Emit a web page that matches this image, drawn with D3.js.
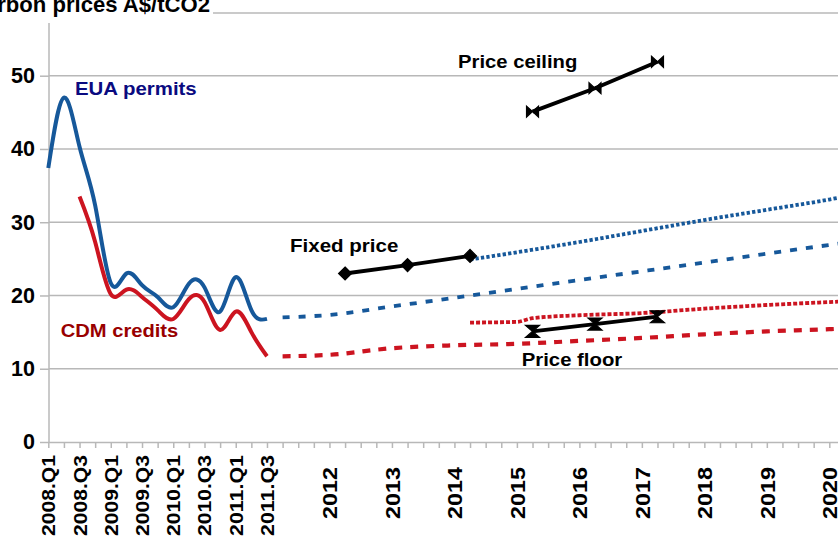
<!DOCTYPE html>
<html><head><meta charset="utf-8">
<script src="https://cdn.jsdelivr.net/npm/d3@7"></script>
<style>
html,body{margin:0;padding:0;background:#fff;}
svg{display:block;font-family:"Liberation Sans",Arial,sans-serif;font-weight:bold;}
</style></head><body>
<svg id="chart" width="838" height="544"></svg>
<script>
// ---------- data ----------
const categories = [
  "2008.Q1","2008.Q2","2008.Q3","2008.Q4","2009.Q1","2009.Q2","2009.Q3","2009.Q4",
  "2010.Q1","2010.Q2","2010.Q3","2010.Q4","2011.Q1","2011.Q2","2011.Q3","2011.Q4",
  "2012.Q1","2012.Q2","2012.Q3","2012.Q4","2013.Q1","2013.Q2","2013.Q3","2013.Q4",
  "2014.Q1","2014.Q2","2014.Q3","2014.Q4","2015.Q1","2015.Q2","2015.Q3","2015.Q4",
  "2016.Q1","2016.Q2","2016.Q3","2016.Q4","2017.Q1","2017.Q2","2017.Q3","2017.Q4",
  "2018.Q1","2018.Q2","2018.Q3","2018.Q4","2019.Q1","2019.Q2","2019.Q3","2019.Q4",
  "2020.Q1","2020.Q2","2020.Q3","2020.Q4"
];
const quarterTickLabels = ["2008.Q1","2008.Q3","2009.Q1","2009.Q3","2010.Q1","2010.Q3","2011.Q1","2011.Q3"];
const yearTickCategories = ["2012.Q3","2013.Q3","2014.Q3","2015.Q3","2016.Q3","2017.Q3","2018.Q3","2019.Q3","2020.Q3"];
const yearTickLabels = ["2012","2013","2014","2015","2016","2017","2018","2019","2020"];
const yTicks = [0, 10, 20, 30, 40, 50];

const euaHistQuarters = ["2008.Q1","2008.Q2","2008.Q3","2008.Q4","2009.Q1","2009.Q2","2009.Q3","2009.Q4",
  "2010.Q1","2010.Q2","2010.Q3","2010.Q4","2011.Q1","2011.Q2","2011.Q3"];
const euaHistory = [37.4, 47.0, 40.3, 32.3, 21.7, 23.0, 21.4, 19.8, 18.4, 21.6, 21.1, 17.8, 22.5, 18.0, 16.8];

const cdmHistQuarters = ["2008.Q3","2008.Q4","2009.Q1","2009.Q2","2009.Q3","2009.Q4",
  "2010.Q1","2010.Q2","2010.Q3","2010.Q4","2011.Q1","2011.Q2","2011.Q3"];
const cdmHistory = [33.5, 27.3, 20.2, 20.8, 19.8, 18.0, 16.8, 19.5, 19.1, 15.3, 17.8, 15.0, 11.7];

const forecastQuarters = ["2011.Q4","2012.Q3","2013.Q3","2014.Q3","2015.Q3","2016.Q3","2017.Q3","2018.Q3","2019.Q3","2020.Q3","2020.Q4"];
const euaForecast = [17.0, 17.35, 18.5, 19.7, 20.9, 22.1, 23.3, 24.5, 25.7, 26.9, 27.2];
const cdmForecast = [11.7, 11.9, 12.8, 13.2, 13.4, 13.8, 14.2, 14.7, 15.1, 15.4, 15.5];

const euaUpperQuarters = ["2014.Q4","2015.Q3","2016.Q3","2017.Q3","2018.Q3","2019.Q3","2020.Q3","2020.Q4"];
const euaUpper = [24.9, 25.9, 27.3, 28.8, 30.3, 31.7, 33.1, 33.5];
const cdmUpperQuarters = ["2014.Q4","2015.Q3","2015.Q4","2016.Q3","2017.Q3","2018.Q3","2019.Q3","2020.Q3","2020.Q4"];
const cdmUpper = [16.3, 16.4, 16.9, 17.3, 17.6, 18.2, 18.7, 19.1, 19.2];

const fixedQuarters = ["2012.Q4","2013.Q4","2014.Q4"];
const fixedPrice = [23.0, 24.15, 25.4];
const boundQuarters = ["2015.Q4","2016.Q4","2017.Q4"];
const priceCeiling = [45.1, 48.3, 51.9];
const priceFloor = [15.1, 16.1, 17.1];

// ---------- chart ----------
const svg = d3.select("#chart");
const BLUE = "#16589a", RED = "#cc1420", GRID = "#b8b8b8";

const x = d3.scalePoint().domain(categories).range([48.3, 48.3 + 51 * 15.62]);
const y = d3.scaleLinear().domain([0, 50]).range([442, 75.7]);

// title and top rule
svg.append("text").attr("x", -31).attr("y", 12).attr("font-size", 22)
  .attr("textLength", 241).attr("lengthAdjust", "spacingAndGlyphs")
  .attr("fill", "#000").text("Carbon prices A$/tCO2");
svg.append("line").attr("x1", 213).attr("x2", 838).attr("y1", 13).attr("y2", 13)
  .attr("stroke", GRID).attr("stroke-width", 1.5);

// grid
svg.append("g").selectAll("line").data(yTicks.filter(d => d > 0)).join("line")
  .attr("x1", 49).attr("x2", 838).attr("y1", d => y(d)).attr("y2", d => y(d))
  .attr("stroke", GRID).attr("stroke-width", 1.5);

// y axis
const yAxis = svg.append("g").attr("transform", "translate(49,0)")
  .call(d3.axisLeft(y).tickValues(yTicks).tickSize(9).tickPadding(5).tickFormat(d3.format("d")));
yAxis.select(".domain").remove();
yAxis.selectAll(".tick line").attr("stroke", GRID).attr("stroke-width", 1.5);
yAxis.selectAll(".tick text").attr("font-size", 21.5).attr("font-weight", "bold")
  .attr("font-family", '"Liberation Sans",Arial,sans-serif').attr("fill", "#000");
svg.append("line").attr("x1", 49).attr("x2", 49).attr("y1", 23).attr("y2", 442)
  .attr("stroke", GRID).attr("stroke-width", 1.5);

// x axis
const labelMap = {};
quarterTickLabels.forEach(q => labelMap[q] = {t: q, size: 18.5, len: 81, c: 495.5});
yearTickCategories.forEach((q, i) => labelMap[q] = {t: yearTickLabels[i], size: 20.5, len: 52, c: 493});
const xAxis = svg.append("g").attr("transform", "translate(0,442)")
  .call(d3.axisBottom(x).tickSize(6).tickSizeOuter(0).tickFormat(d => labelMap[d] ? labelMap[d].t : ""));
xAxis.select(".domain").attr("stroke", GRID).attr("stroke-width", 1.5);
xAxis.selectAll(".tick line").attr("stroke", GRID).attr("stroke-width", 1.5);
xAxis.selectAll(".tick text").each(function(d) {
  const m = labelMap[d];
  const t = d3.select(this);
  if (!m) { t.remove(); return; }
  t.attr("transform", "rotate(-90)").attr("x", -(m.c - 442)).attr("y", 0).attr("dy", "0.35em")
    .attr("text-anchor", "middle").attr("font-size", m.size).attr("font-weight", "bold")
    .attr("font-family", '"Liberation Sans",Arial,sans-serif').attr("fill", "#000")
    .attr("textLength", m.len).attr("lengthAdjust", "spacingAndGlyphs");
});

// series helper
function series(qs, vals, opts) {
  const pts = qs.map((q, i) => [x(q), y(vals[i])]);
  const line = d3.line().curve(opts.curve || d3.curveLinear);
  svg.append("path").attr("d", line(pts)).attr("fill", "none")
    .attr("stroke", opts.color).attr("stroke-width", opts.width || 3.8)
    .attr("stroke-dasharray", opts.dash || null).attr("stroke-linejoin", "round");
  return pts;
}

series(euaHistQuarters, euaHistory, {color: BLUE, curve: d3.curveNatural, width: 4});
series(cdmHistQuarters, cdmHistory, {color: RED, curve: d3.curveNatural, width: 4});
series(forecastQuarters, euaForecast, {color: BLUE, curve: d3.curveMonotoneX, dash: "7,9", width: 3.8});
series(forecastQuarters, cdmForecast, {color: RED, curve: d3.curveMonotoneX, dash: "8,8", width: 4.2});
series(euaUpperQuarters, euaUpper, {color: BLUE, curve: d3.curveMonotoneX, dash: "3.3,2.2", width: 3.8});
series(cdmUpperQuarters, cdmUpper, {color: RED, curve: d3.curveMonotoneX, dash: "4,2", width: 3.8});

const fixedPts = series(fixedQuarters, fixedPrice, {color: "#000", width: 3.8});
const ceilPts = series(boundQuarters, priceCeiling, {color: "#000", width: 3.8});
const floorPts = series(boundQuarters, priceFloor, {color: "#000", width: 3.8});

const diamond = "M0,-6.5L6.5,0L0,6.5L-6.5,0Z";
const bowtie = "M-6,-5.5L0,0L-6,5.5ZM6,-5.5L0,0L6,5.5Z";
const hourglass = "M-7,-6L7,-6L0,0ZM-7,6L7,6L0,0Z";
function markers(pts, shape) {
  svg.append("g").selectAll("path").data(pts).join("path")
    .attr("d", shape).attr("transform", d => `translate(${d[0]},${d[1]})`)
    .attr("fill", "#000").attr("stroke", "#000").attr("stroke-width", 1.2).attr("stroke-linejoin", "miter");
}
markers(fixedPts, diamond);
markers(ceilPts, bowtie);
markers(floorPts, hourglass);

// annotations
function label(txt, x0, base, len, color) {
  svg.append("text").attr("x", x0).attr("y", base).attr("font-size", 18)
    .attr("textLength", len).attr("lengthAdjust", "spacingAndGlyphs")
    .attr("fill", color).text(txt);
}
label("EUA permits", 75, 95, 121.7, "#0a0a80");
label("CDM credits", 60.7, 336.7, 117.6, "#990000");
label("Fixed price", 290, 251.7, 108.3, "#000");
label("Price ceiling", 458, 68.3, 119.3, "#000");
label("Price floor", 521.8, 366.4, 100.4, "#000");
</script>
</body></html>
